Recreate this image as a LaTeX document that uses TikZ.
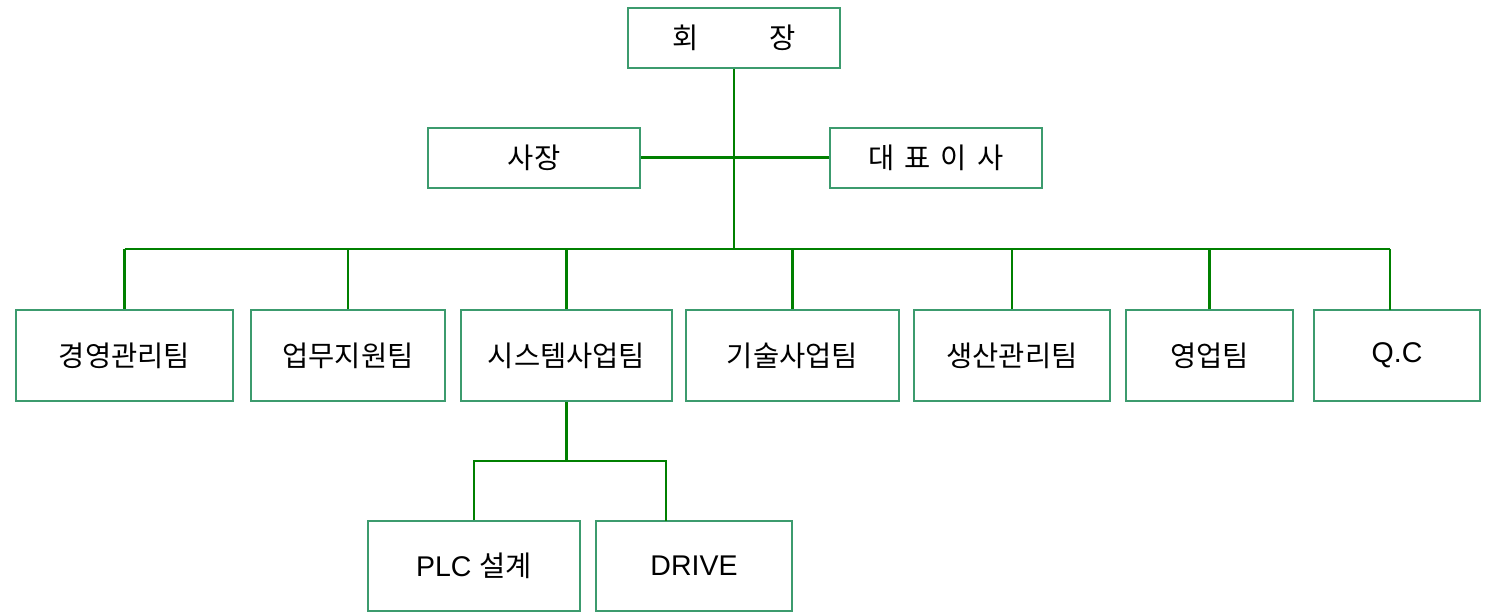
\documentclass[tikz,border=0pt]{standalone}
\usepackage{fontspec}
\setmainfont{Liberation Sans}
\newfontfamily\kr{Noto Sans CJK KR}
\definecolor{boxgreen}{RGB}{60,155,110}
\definecolor{linegreen}{RGB}{0,128,0}
\tikzset{
  unit/.style={rectangle,draw=boxgreen,line width=2pt,minimum height=60pt,
    inner sep=0pt,font=\fontsize{28.5}{32}\selectfont},
  team/.style={unit,minimum height=91pt},
  link/.style={draw=linegreen,line width=2.2pt}
}
\begin{document}
\begin{tikzpicture}
    [x=1pt,y=-1pt]
    \useasboundingbox (0,0) rectangle (1487,613);
    % top
    \node[unit,minimum width=212pt] (chair) at (734,38) {\kr 회\hspace{70pt}장};
    \node[unit,minimum width=212pt] (president) at (534,157.5) {\kr 사장};
    \node[unit,minimum width=212pt] (ceo) at (936,157.5) {\kr 대\hspace{10pt}표\hspace{10pt}이\hspace{10pt}사};
    % teams
    \node[team,minimum width=217pt] (mgmt) at (124.5,355.5) {\kr 경영관리팀};
    \node[team,minimum width=194pt] (support) at (348,355.5) {\kr 업무지원팀};
    \node[team,minimum width=211pt] (system) at (566.5,355.5) {\kr 시스템사업팀};
    \node[team,minimum width=213pt] (tech) at (792.5,355.5) {\kr 기술사업팀};
    \node[team,minimum width=196pt] (prod) at (1012,355.5) {\kr 생산관리팀};
    \node[team,minimum width=167pt] (sales) at (1209.5,355.5) {\kr 영업팀};
    \node[team,minimum width=166pt] (qc) at (1397,355.5) {Q.C};
    % under system
    \node[team,minimum width=212pt,minimum height=90pt] (plc) at (474,566) {PLC {\kr 설계}};
    \node[team,minimum width=196pt,minimum height=90pt] (drive) at (694,566) {DRIVE};
    \coordinate (bus) at (734,249);
    \coordinate (sub) at (566.5,461);
    \coordinate (qcdrop) at (1390,310);
    \coordinate (drivedrop) at (666,521);
    \draw[link] (chair.south) -- (bus);
    \draw[link] (president.east) -- (ceo.west);
    \draw[link] (mgmt.north |- bus) -- (qcdrop |- bus);
    \foreach \t in {mgmt,support,system,tech,prod,sales}
      \draw[link] (\t.north) -- (\t.north |- bus);
    \draw[link] (qcdrop) -- (qcdrop |- bus);
    \draw[link] (system.south) -- (sub);
    \draw[link] (plc.north) |- (sub) -| (drivedrop);
  \end{tikzpicture}
\end{document}
